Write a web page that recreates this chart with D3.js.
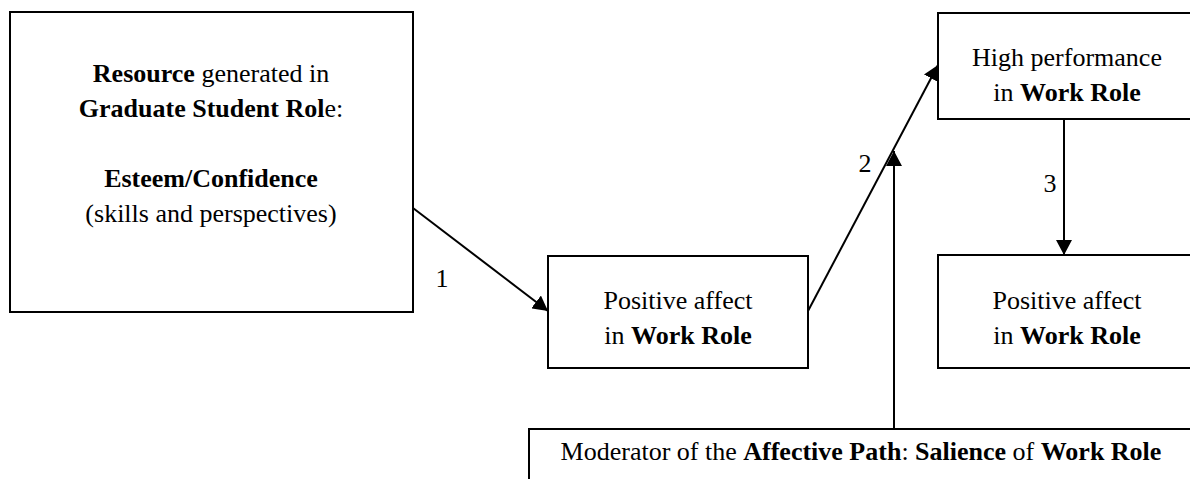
<!DOCTYPE html>
<html>
<head>
<meta charset="utf-8">
<script src="https://cdn.jsdelivr.net/npm/d3@7"></script>
<style>
  html, body { margin: 0; padding: 0; background: #fff; }
  svg { display: block; }
</style>
</head>
<body>
<svg id="chart" width="1190" height="479"></svg>
<script>

// Boxes of the path model, each line is a list of [text, bold] runs
const boxIds = ["resource", "affectA", "performance", "affectB", "moderator"];
const boxLines = [
  [[["Resource", 1], [" generated in", 0]],
   [["Graduate Student Rol", 1], ["e:", 0]],
   [],
   [["Esteem/Confidence", 1]],
   [["(skills and perspectives)", 0]]],
  [[["Positive affect", 0]], [["in ", 0], ["Work Role", 1]]],
  [[["High performance", 0]], [["in ", 0], ["Work Role", 1]]],
  [[["Positive affect", 0]], [["in ", 0], ["Work Role", 1]]],
  [[["Moderator of the ", 0], ["Affective Path", 1], [": ", 0], ["Salience", 1], [" of ", 0], ["Work Role", 1]]]
];

// Paths between boxes: from, to, label
const pathFrom = ["resource", "affectA", "performance", "moderator"];
const pathTo = ["affectA", "performance", "affectB", null];
const pathLabels = ["1", "2", "3", ""];

// Layout (pixels)
const layout = {
  resource:    {x: 10,  y: 12,  w: 403, h: 300, cx: 211, first: 82},
  affectA:     {x: 548, y: 256, w: 260, h: 112, cx: 678, first: 309},
  performance: {x: 938, y: 13,  w: 260, h: 106, cx: 1067, first: 66},
  affectB:     {x: 938, y: 255, w: 260, h: 113, cx: 1067, first: 309},
  moderator:   {x: 529, y: 429, w: 670, h: 80,  cx: 861, first: 460}
};
const lineGap = 35;
const serif = "'Liberation Serif', 'Times New Roman', Times, serif";

// arrow endpoints and label positions
const pathGeom = [
  {x1: 413, y1: 208, x2: 548, y2: 311, lx: 442, ly: 287},
  {x1: 808, y1: 311, x2: 938, y2: 65,  lx: 865, ly: 172},
  {x1: 1064, y1: 119, x2: 1064, y2: 255, lx: 1050, ly: 192},
  {x1: 894, y1: 429, x2: 894, y2: 151, lx: 0, ly: 0}
];

const svg = d3.select("#chart");

svg.append("defs").append("marker")
    .attr("id", "head")
    .attr("markerUnits", "userSpaceOnUse")
    .attr("viewBox", "0 0 15 16")
    .attr("refX", 15)
    .attr("refY", 8)
    .attr("markerWidth", 15)
    .attr("markerHeight", 16)
    .attr("orient", "auto")
  .append("path")
    .attr("d", "M0,0 L15,8 L0,16 Z")
    .attr("fill", "#000");

// boxes
const boxes = svg.selectAll("g.box")
  .data(boxIds)
  .join("g")
    .attr("class", "box");

boxes.append("rect")
    .attr("x", d => layout[d].x)
    .attr("y", d => layout[d].y)
    .attr("width", d => layout[d].w)
    .attr("height", d => layout[d].h)
    .attr("fill", "#fff")
    .attr("stroke", "#000")
    .attr("stroke-width", 2);

boxes.each(function(d, i) {
  const g = d3.select(this);
  const L = layout[d];
  boxLines[i].forEach((runs, j) => {
    if (runs.length == 0) return;
    const t = g.append("text")
        .attr("x", L.cx)
        .attr("y", L.first + j * lineGap)
        .attr("text-anchor", "middle")
        .attr("font-family", serif)
        .attr("font-size", 26)
        .style("white-space", "pre");
    runs.forEach(r => {
      t.append("tspan")
        .attr("font-weight", r[1] ? "bold" : "normal")
        .text(r[0]);
    });
  });
});

// arrows
const arrows = svg.selectAll("g.arrow")
  .data(pathLabels)
  .join("g")
    .attr("class", "arrow");

arrows.append("line")
    .attr("x1", (d, i) => pathGeom[i].x1)
    .attr("y1", (d, i) => pathGeom[i].y1)
    .attr("x2", (d, i) => pathGeom[i].x2)
    .attr("y2", (d, i) => pathGeom[i].y2)
    .attr("stroke", "#000")
    .attr("stroke-width", 2)
    .attr("marker-end", "url(#head)");

arrows.filter(d => d != "")
  .append("text")
    .attr("x", (d, i) => pathGeom[i].lx)
    .attr("y", (d, i) => pathGeom[i].ly)
    .attr("text-anchor", "middle")
    .attr("font-family", serif)
    .attr("font-size", 26)
    .text(d => d);

</script>
</body>
</html>
